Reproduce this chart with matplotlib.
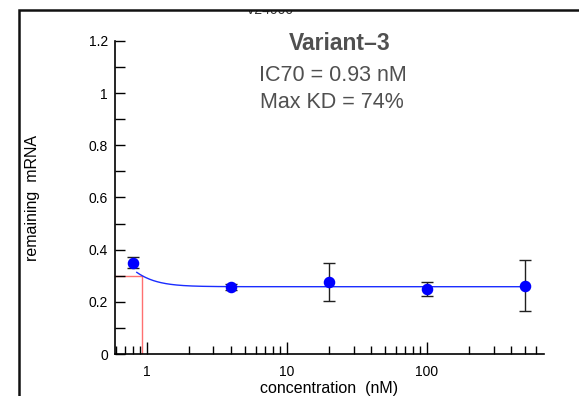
import numpy as np
import matplotlib
matplotlib.use("Agg")
import matplotlib.pyplot as plt
from matplotlib.lines import Line2D
from matplotlib.patches import Rectangle
from matplotlib.ticker import FixedLocator, NullFormatter, FixedFormatter

plt.rcParams['font.family'] = ['Liberation Sans', 'DejaVu Sans']

# data
conc = [0.8, 4, 20, 100, 500]
remaining = [0.350, 0.257, 0.277, 0.249, 0.262]
err = [0.021, 0.012, 0.073, 0.027, 0.099]

# fitted 4PL curve parameters
fit_top = 0.60
fit_bottom = 0.258
fit_ic50 = 0.53
fit_hill = 3.5
fit_xmin, fit_xmax = 0.85, 500

ic70 = 0.93
ic70_level = 0.30

title = "Variant\u20133"
line2 = "IC70 = 0.93 nM"
line3 = "Max KD = 74%"
hidden_title = "V24000"

W, H = 579, 396
fig = plt.figure(figsize=(W / 100, H / 100), dpi=100)
ax = fig.add_axes([115 / W, 1 - 354 / H, (544 - 115) / W, (354 - 41) / H])

ax.set_xscale('log')
ax.set_xlim(0.594, 688)
ax.set_ylim(0, 1.2)

xf = np.logspace(np.log10(fit_xmin), np.log10(fit_xmax), 400)
yf = fit_bottom + (fit_top - fit_bottom) / (1 + (xf / fit_ic50) ** fit_hill)
ax.plot(xf, yf, color='#1a2cff', lw=1.0, zorder=2)

ax.plot([0.594, ic70], [ic70_level, ic70_level], color='#ff7070', lw=1.0, zorder=1, clip_on=False)
ax.plot([ic70, ic70], [0, ic70_level], color='#ff7070', lw=1.0, zorder=1)

ax.errorbar(conc, remaining, yerr=err, fmt='o', color='#0000ff', ms=7.3,
            ecolor='#202020', elinewidth=1.0, capsize=4, capthick=1.0, zorder=3)

for s in ['top', 'right']:
    ax.spines[s].set_visible(False)
for s in ['left', 'bottom']:
    ax.spines[s].set_linewidth(1.2)

ax.set_yticks([0, 0.2, 0.4, 0.6, 0.8, 1.0, 1.2])
ax.set_yticklabels(['0', '0.2', '0.4', '0.6', '0.8', '1', '1.2'])
ax.set_yticks([0.1, 0.3, 0.5, 0.7, 0.9, 1.1], minor=True)
ax.tick_params(axis='y', which='both', direction='in', length=7, width=1.0,
               labelsize=10, pad=5)

ax.xaxis.set_major_locator(FixedLocator([1, 10, 100]))
ax.xaxis.set_major_formatter(FixedFormatter(['1', '10', '100']))
minors = [m * d for d in [0.1, 1, 10, 100] for m in range(2, 10) if 0.594 <= m * d <= 688]
ax.xaxis.set_minor_locator(FixedLocator(minors))
ax.xaxis.set_minor_formatter(NullFormatter())
ax.tick_params(axis='x', which='major', direction='in', length=9, width=1.0,
               labelsize=10, pad=8)
ax.tick_params(axis='x', which='minor', direction='in', length=6, width=1.0)

ax.set_xlabel("concentration  (nM)", fontsize=11.5, labelpad=0)
ax.set_ylabel("remaining  mRNA", fontsize=11.5, labelpad=0)
ax.xaxis.set_label_coords((329 - 115) / (544 - 115), -(388 - 354) / (354 - 41))
ax.yaxis.set_label_coords((33 - 115) / (544 - 115), (354 - 198) / (354 - 41))
ax.xaxis.label.set_verticalalignment('center')
ax.yaxis.label.set_verticalalignment('center')

txtc = '#505050'
fig.text(340 / W, 1 - 50 / H, title, fontsize=16.5, fontweight='bold', color=txtc,
         ha='center', va='baseline')
fig.text(333 / W, 1 - 81 / H, line2, fontsize=15.5, color=txtc, ha='center', va='baseline')
fig.text(332 / W, 1 - 108 / H, line3, fontsize=15.5, color=txtc, ha='center', va='baseline')

# partially hidden title behind frame
fig.text(270 / W, 1 - 14.5 / H, hidden_title, fontsize=10, color='#303030', ha='center', va='baseline')
fig.patches.append(Rectangle((0, 1 - 10 / H), 1, 10 / H, transform=fig.transFigure,
                             facecolor='white', edgecolor='none', zorder=10))
fig.lines.append(Line2D([18.5 / W, 18.5 / W, 1.0], [0, 1 - 9.5 / H, 1 - 9.5 / H],
                        transform=fig.transFigure, color='#111111', lw=1.8, zorder=11,
                        solid_joinstyle='miter'))

fig.savefig('out.png', dpi=100)
